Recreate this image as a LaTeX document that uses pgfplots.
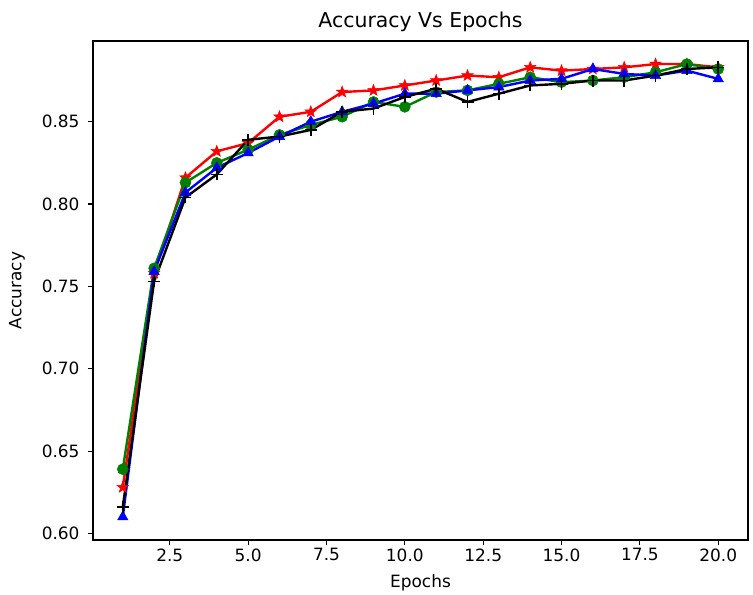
\documentclass[border=0pt]{standalone}
\usepackage{fontspec}
\setmainfont{DejaVu Sans}
\usepackage{pgfplots}
\pgfplotsset{compat=1.18}
\definecolor{mgreen}{rgb}{0,0.5,0}
\definecolor{mred}{rgb}{1,0,0}
\definecolor{mblue}{rgb}{0,0,1}

% filled five-pointed star, like matplotlib's '*'
\pgfdeclareplotmark{fstar}{%
  \pgfpathmoveto{\pgfpointpolar{90}{\pgfplotmarksize}}%
  \pgfpathlineto{\pgfpointpolar{126}{0.42\pgfplotmarksize}}%
  \pgfpathlineto{\pgfpointpolar{162}{\pgfplotmarksize}}%
  \pgfpathlineto{\pgfpointpolar{198}{0.42\pgfplotmarksize}}%
  \pgfpathlineto{\pgfpointpolar{234}{\pgfplotmarksize}}%
  \pgfpathlineto{\pgfpointpolar{270}{0.42\pgfplotmarksize}}%
  \pgfpathlineto{\pgfpointpolar{306}{\pgfplotmarksize}}%
  \pgfpathlineto{\pgfpointpolar{342}{0.42\pgfplotmarksize}}%
  \pgfpathlineto{\pgfpointpolar{18}{\pgfplotmarksize}}%
  \pgfpathlineto{\pgfpointpolar{54}{0.42\pgfplotmarksize}}%
  \pgfpathclose
  \pgfusepathqfillstroke
}

\pgfplotstableread{
ep green red blue black
1  0.639 0.628 0.610 0.616
2  0.761 0.758 0.759 0.753
3  0.813 0.816 0.807 0.804
4  0.825 0.832 0.822 0.818
5  0.833 0.837 0.831 0.839
6  0.842 0.853 0.841 0.841
7  0.848 0.856 0.850 0.845
8  0.853 0.868 0.856 0.856
9  0.862 0.869 0.861 0.858
10 0.859 0.872 0.867 0.865
11 0.868 0.875 0.867 0.870
12 0.869 0.878 0.869 0.862
13 0.873 0.877 0.871 0.867
14 0.877 0.883 0.875 0.872
15 0.874 0.881 0.876 0.873
16 0.875 0.882 0.882 0.875
17 0.877 0.883 0.879 0.875
18 0.880 0.885 0.878 0.878
19 0.885 0.885 0.881 0.882
20 0.882 0.883 0.876 0.883
}\acc

\begin{document}
\begin{tikzpicture}
\begin{axis}[
    scale only axis, width=655bp, height=499bp,
    xmin=0.05, xmax=20.95, ymin=0.596, ymax=0.899,
    xtick={2.5,5,7.5,10,12.5,15,17.5,20},
    ytick={0.60,0.65,0.70,0.75,0.80,0.85},
    xticklabel style={/pgf/number format/.cd, fixed, fixed zerofill, precision=1},
    yticklabel style={xshift=-5bp, /pgf/number format/.cd, fixed, fixed zerofill, precision=2},
    /pgf/number format/assume math mode=true,
    tick label style={font=\fontsize{17}{20}\selectfont},
    label style={font=\fontsize{17}{20}\selectfont},
    title style={font=\fontsize{20.5}{24}\selectfont},
    title={Accuracy Vs Epochs},
    xlabel={Epochs}, ylabel={Accuracy},
    xlabel shift=6bp, ylabel shift=10bp,
    tick align=outside, tick pos=left,
    major tick length=5bp,
    every tick/.style={black, line width=1.1bp},
    axis line style={line width=1.1bp},
    every axis plot/.append style={line width=2.4bp},
]
\addplot[mred, mark=fstar, mark size=6bp, mark options={line width=0.5bp}] table[x=ep, y=red] {\acc};
\addplot[mgreen, mark=*, mark size=5.5bp, mark options={line width=0.5bp}] table[x=ep, y=green] {\acc};
\addplot[mblue, mark=triangle*, mark size=6bp, mark options={line width=0.5bp}] table[x=ep, y=blue] {\acc};
\addplot[black, mark=+, mark size=6bp, mark options={line width=1.6bp}] table[x=ep, y=black] {\acc};
\end{axis}
\pgfresetboundingbox
\path[use as bounding box] ([xshift=-93bp,yshift=-55bp]current axis.south west) rectangle ([xshift=5bp,yshift=41bp]current axis.north east);
\end{tikzpicture}
\end{document}
